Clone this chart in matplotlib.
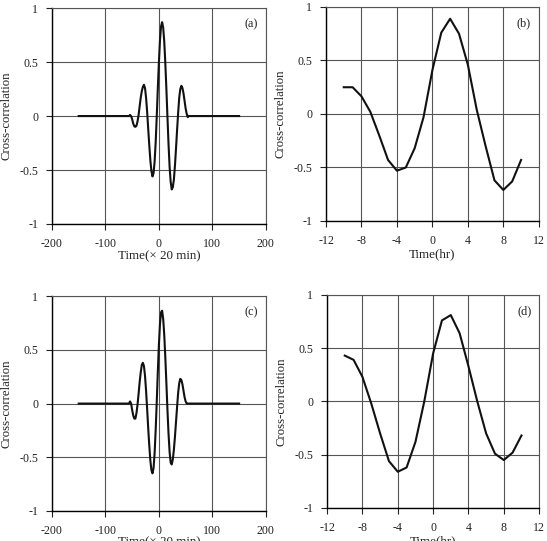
import matplotlib
matplotlib.use("Agg")
import matplotlib.pyplot as plt
import numpy as np

plt.rcParams['font.family'] = ['Liberation Serif', 'DejaVu Serif']
plt.rcParams['axes.unicode_minus'] = False

# lag axis for the top-left / bottom-left panels (units of 20 min)
lag = [-150] + list(range(-56, 58, 2)) + [150]

# (a) cross-correlation, values read every 2 lags between -56 and 56
corr_a = [0.0,
          0.0, 0.01, 0.0, -0.03, -0.07, -0.095, -0.10, -0.09, -0.05, 0.01,
          0.09, 0.17, 0.23, 0.27, 0.29, 0.26, 0.17, 0.04, -0.12, -0.27,
          -0.41, -0.51, -0.56, -0.53, -0.42, -0.24, 0.0, 0.26, 0.50, 0.70,
          0.83, 0.87, 0.82, 0.69, 0.49, 0.25, -0.01, -0.26, -0.47, -0.61,
          -0.68, -0.66, -0.59, -0.46, -0.30, -0.13, 0.03, 0.17, 0.25, 0.28,
          0.26, 0.21, 0.14, 0.07, 0.02, -0.01, 0.0,
          0.0]

# (c) cross-correlation
corr_c = [0.0,
          0.0, 0.02, 0.0, -0.06, -0.11, -0.14, -0.14, -0.09, -0.01, 0.09,
          0.20, 0.29, 0.36, 0.38, 0.35, 0.26, 0.12, -0.05, -0.23, -0.39,
          -0.53, -0.62, -0.65, -0.60, -0.46, -0.24, 0.02, 0.30, 0.55, 0.74,
          0.85, 0.865, 0.79, 0.64, 0.43, 0.19, -0.06, -0.28, -0.45, -0.55,
          -0.567, -0.52, -0.43, -0.31, -0.17, -0.03, 0.10, 0.19, 0.23, 0.22,
          0.18, 0.12, 0.06, 0.02, 0.0, 0.0, 0.0,
          0.0]

# hourly lags for the right panels
hours = list(range(-10, 11))
corr_b = [0.25, 0.25, 0.165, 0.02, -0.2, -0.43, -0.53, -0.5, -0.32, -0.03,
          0.41, 0.76, 0.89, 0.75, 0.46, 0.04, -0.3, -0.62, -0.71, -0.63, -0.43]
corr_d = [0.43, 0.39, 0.23, -0.02, -0.3, -0.56, -0.66, -0.62, -0.38, 0.0,
          0.45, 0.76, 0.81, 0.64, 0.33, 0.0, -0.3, -0.49, -0.55, -0.48, -0.32]

fig = plt.figure(figsize=(5.47, 5.41), dpi=100)

grid_col = '#555555'
txt_col = '#222222'


def style(ax, xticks, label, xlabel, xlab_pos, ylab_x):
    ax.set_ylim(-1, 1)
    ax.set_xlim(xticks[0], xticks[-1])
    ax.set_xticks(xticks)
    ax.set_yticks([-1, -0.5, 0, 0.5, 1])
    ax.set_yticklabels(['-1', '-0.5', '0', '0.5', '1'])
    ax.grid(True, color=grid_col, linewidth=0.8)
    ax.set_axisbelow(True)
    for s in ['top', 'right']:
        ax.spines[s].set_color(grid_col)
        ax.spines[s].set_linewidth(0.8)
    for s in ['left', 'bottom']:
        ax.spines[s].set_color('black')
        ax.spines[s].set_linewidth(1.0)
    ax.tick_params(direction='out', length=4, width=0.8, pad=6,
                   labelsize=8.6, colors=txt_col)
    ax.set_ylabel('Cross-correlation', fontsize=9.2, color=txt_col)
    ax.yaxis.set_label_coords(ylab_x, 0.5)
    ax.set_xlabel(xlabel, fontsize=9.4, color=txt_col)
    ax.xaxis.set_label_coords(0.5, xlab_pos)
    ax.text(0.93, 0.925, label, transform=ax.transAxes, ha='center',
            va='center', fontsize=8.8, color=txt_col)


ax_a = fig.add_axes([0.095, 0.586, 0.391, 0.399])
ax_a.plot(lag, corr_a, color='#111111', linewidth=1.5)
style(ax_a, [-200, -100, 0, 100, 200], '(a)', 'Time(× 20 min)', -0.12, -0.185)

ax_b = fig.add_axes([0.596, 0.5915, 0.389, 0.3956])
ax_b.plot(hours, corr_b, color='#111111', linewidth=1.5)
style(ax_b, [-12, -8, -4, 0, 4, 8, 12], '(b)', 'Time(hr)', -0.126, -0.185)

ax_c = fig.add_axes([0.095, 0.0555, 0.391, 0.397])
ax_c.plot(lag, corr_c, color='#111111', linewidth=1.5)
style(ax_c, [-200, -100, 0, 100, 200], '(c)', 'Time(× 20 min)', -0.12, -0.185)

ax_d = fig.add_axes([0.598, 0.061, 0.3876, 0.394])
ax_d.plot(hours, corr_d, color='#111111', linewidth=1.5)
style(ax_d, [-12, -8, -4, 0, 4, 8, 12], '(d)', 'Time(hr)', -0.126, -0.185)

fig.savefig('out.png', dpi=100)
